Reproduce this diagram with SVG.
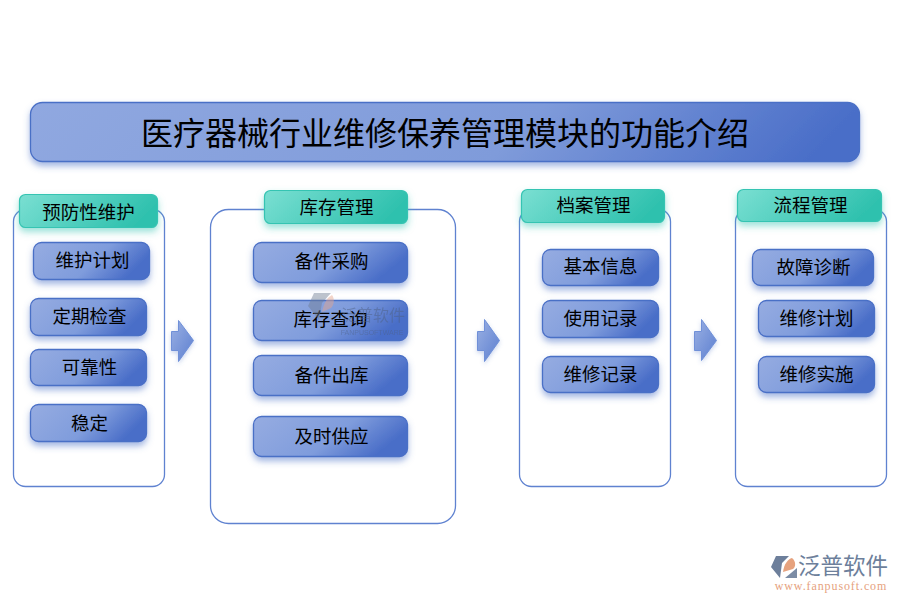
<svg xmlns="http://www.w3.org/2000/svg" width="900" height="600" viewBox="0 0 900 600">
<style>
text{font-family:"Noto Sans CJK SC","Liberation Serif",serif;text-anchor:middle;fill:#000}
.panel{fill:#fff;stroke:#5f82d0;stroke-width:1.3}
.item{fill:url(#blue);stroke:#4a6fc6;stroke-width:1.3;filter:url(#shB)}
.head{fill:url(#teal);stroke:#35c4b2;stroke-width:1.2;filter:url(#shT)}
.arrow{fill:url(#blueA);stroke:#6f90d8;stroke-width:1;filter:url(#shA)}
.t{font-size:18.5px}
.h{font-size:18.5px}
</style>
<defs>
<linearGradient id="blue" x1="0" y1="0" x2="1" y2=".33"><stop offset="0" stop-color="#96ace1"/><stop offset=".62" stop-color="#7f9cdc"/><stop offset="1" stop-color="#4a6ec8"/></linearGradient>
<linearGradient id="blueA" x1="0" y1="0" x2="1" y2="1"><stop offset="0" stop-color="#9ab0e3"/><stop offset="1" stop-color="#5c7fd0"/></linearGradient>
<linearGradient id="titleG" x1="0" y1="0" x2="1" y2=".07"><stop offset="0" stop-color="#90a8e0"/><stop offset=".62" stop-color="#7f9bda"/><stop offset="1" stop-color="#4a6ec8"/></linearGradient>
<linearGradient id="teal" x1="0" y1="0" x2="1" y2=".24"><stop offset="0" stop-color="#7adfd2"/><stop offset="1" stop-color="#2fc1ae"/></linearGradient>
<filter id="shB" x="-20%" y="-30%" width="140%" height="170%"><feDropShadow dx="0" dy="4" stdDeviation="3" flood-color="#4a6fc6" flood-opacity=".5"/></filter>
<filter id="shT" x="-20%" y="-30%" width="140%" height="170%"><feDropShadow dx="0" dy="4" stdDeviation="3.5" flood-color="#35c4b2" flood-opacity=".5"/></filter>
<filter id="shA" x="-40%" y="-30%" width="180%" height="160%"><feDropShadow dx="0" dy="2" stdDeviation="2" flood-color="#4a6fc6" flood-opacity=".3"/></filter>
</defs>
<g transform="translate(.5 .5)">
<g id="title"><rect x="30" y="102" width="829" height="59" rx="12" fill="url(#titleG)" stroke="#4a6fc6" stroke-width="1.3" filter="url(#shB)"/><text x="444.500" y="144" font-size="32">医疗器械行业维修保养管理模块的功能介绍</text></g>
<g id="panel-1"><rect class="panel" x="13" y="209" width="151" height="277" rx="12"/><rect class="head" x="19" y="194" width="138" height="33" rx="6"/><text class="h" x="88" y="218">预防性维护</text></g>
<g id="panel-2"><rect class="panel" x="210" y="209" width="245" height="314" rx="18"/><rect class="head" x="264" y="190" width="143" height="33" rx="6"/><text class="h" x="336" y="213">库存管理</text></g>
<g id="panel-3"><rect class="panel" x="519" y="209" width="151" height="277" rx="12"/><rect class="head" x="521" y="189" width="143" height="33" rx="6"/><text class="h" x="593" y="211">档案管理</text></g>
<g id="panel-4"><rect class="panel" x="735" y="209" width="151" height="277" rx="12"/><rect class="head" x="737" y="189" width="144" height="32" rx="6"/><text class="h" x="810" y="211">流程管理</text></g>
<g id="n1"><rect class="item" x="33" y="242" width="116" height="37" rx="8"/><text class="t" x="92" y="266">维护计划</text></g>
<g id="n2"><rect class="item" x="30" y="298" width="116" height="37" rx="8"/><text class="t" x="89" y="322">定期检查</text></g>
<g id="n3"><rect class="item" x="30" y="349" width="116" height="36" rx="8"/><text class="t" x="89" y="373">可靠性</text></g>
<g id="n4"><rect class="item" x="30" y="404" width="116" height="37" rx="8"/><text class="t" x="89" y="429">稳定</text></g>
<g id="n5"><rect class="item" x="253" y="242" width="154" height="40" rx="8"/><text class="t" x="331" y="267">备件采购</text></g>
<g id="n6"><rect class="item" x="253" y="300" width="154" height="40" rx="8"/><text class="t" x="330" y="325">库存查询</text></g>
<g id="n7"><rect class="item" x="253" y="355" width="154" height="40" rx="8"/><text class="t" x="331" y="381">备件出库</text></g>
<g id="n8"><rect class="item" x="253" y="416" width="154" height="40" rx="8"/><text class="t" x="331" y="442">及时供应</text></g>
<g id="n9"><rect class="item" x="542" y="249" width="116" height="36" rx="8"/><text class="t" x="600" y="272">基本信息</text></g>
<g id="n10"><rect class="item" x="542" y="300" width="116" height="37" rx="8"/><text class="t" x="600" y="324">使用记录</text></g>
<g id="n11"><rect class="item" x="542" y="356" width="116" height="36" rx="8"/><text class="t" x="600" y="380">维修记录</text></g>
<g id="n12"><rect class="item" x="752" y="249" width="121" height="36" rx="8"/><text class="t" x="813" y="273">故障诊断</text></g>
<g id="n13"><rect class="item" x="758" y="300" width="116" height="36" rx="8"/><text class="t" x="816" y="324">维修计划</text></g>
<g id="n14"><rect class="item" x="758" y="356" width="116" height="36" rx="8"/><text class="t" x="816" y="380">维修实施</text></g>
<g id="connectors">
<path class="arrow" d="M171 331H178V320L193 340L178 361V350H171Z"/>
<path class="arrow" d="M477 331H484V319L499 340L484 361V350H477Z"/>
<path class="arrow" d="M694 331H701V319L716 340L701 360V350H694Z"/>
</g>
</g>
<g id="watermark" opacity=".45">
<path d="M314 293H331L322 303L319 320L308 306Z" fill="#6e7c92"/><path d="M322 312C324 302 328 297 332 295C335 299 334 305 331 308Z" fill="#e8a58a"/>
<text x="373" y="321" font-size="16" style="fill:#4d5f80">泛普软件</text>
<text x="372" y="335" font-size="7" style="font-family:'Liberation Sans',sans-serif;fill:#4d5f80">FANPUSOFTWARE</text>
</g>
<g id="logo">
<path d="M776 556H789L782 563L780 578L771 567Z" fill="#6d7f9b"/><path d="M783 572C784 564 788 559 792 558C796 561 796 567 793 569Z" fill="#e6a27e"/><path d="M785 578L797 568V578Z" fill="#6d7f9b" opacity=".9"/>
<text x="843" y="574" font-size="22.500" style="fill:#6d7f9b">泛普软件</text>
<text x="831" y="590" font-size="12" style="font-family:'Liberation Serif',serif;fill:#e6a27e;letter-spacing:.9px">www.fanpusoft.com</text>
</g>
</svg>
